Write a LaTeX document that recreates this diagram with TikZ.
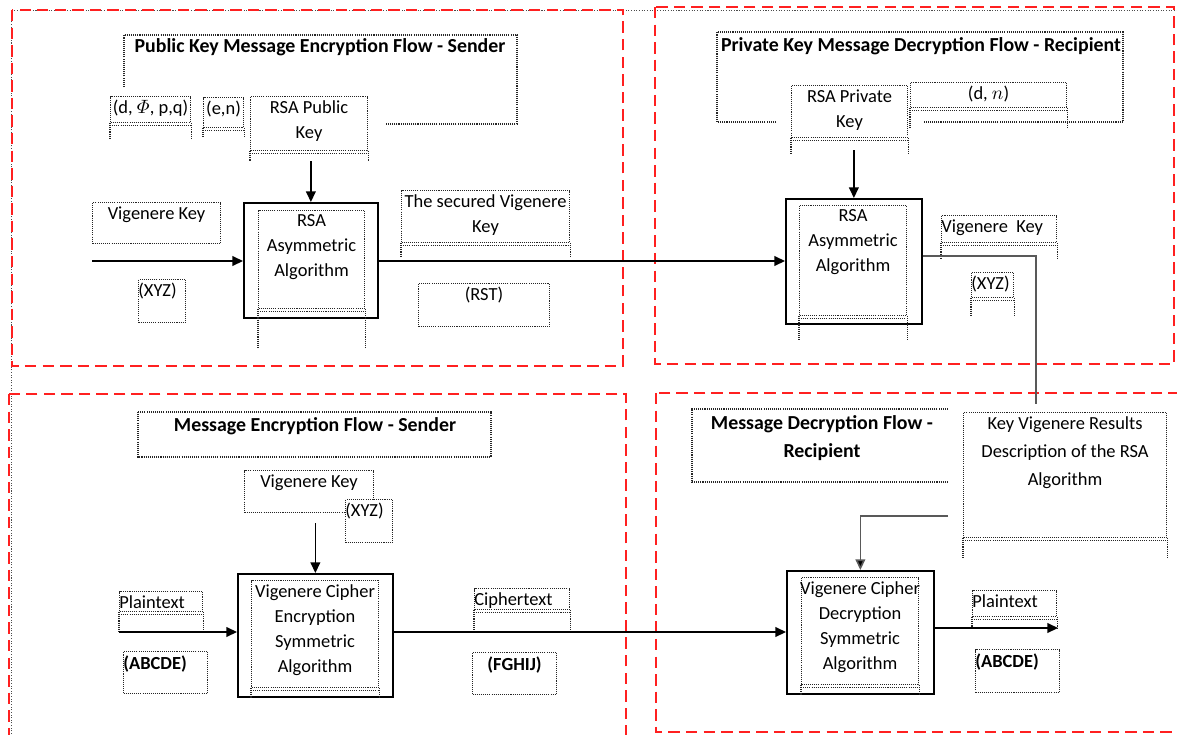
\documentclass[tikz,border=0pt]{standalone}
\usepackage{amsmath}
\usepackage{fontspec}
\setmainfont{Carlito}
\usetikzlibrary{arrows.meta}
\definecolor{panelred}{RGB}{255,32,32}

\begin{document}
\begin{tikzpicture}[x=0.02cm, y=-0.02cm,
    font=\fontsize{10.5}{14.2}\selectfont,
    panel/.style={draw=panelred, line width=1.6pt, dash pattern=on 6.5pt off 3.5pt},
    page/.style={draw=black!70, line width=0.5pt, dash pattern=on 0.6pt off 0.9pt},
    dotl/.style={draw=black!85, line width=0.6pt, dash pattern=on 0.6pt off 0.6pt},
    tbox/.style={dotl, fill=white, anchor=north west, inner sep=0pt},
    algo/.style={draw, line width=1pt, fill=white, anchor=north west, inner sep=0pt},
    wh/.style 2 args={minimum width=#1*0.02cm, minimum height=#2*0.02cm},
    txt/.style={anchor=north, align=center, inner sep=0pt, yshift=-2.3pt},
    txtl/.style={anchor=north west, align=left, inner sep=0pt, yshift=-2.3pt},
    ttl/.style={anchor=north, align=center, inner sep=0pt, font=\fontsize{11.3}{16}\selectfont\bfseries},
    bold/.style={font=\fontsize{10.5}{14.2}\selectfont\bfseries},
    flow/.style={-{Triangle[length=6pt,width=5.5pt]}, line width=0.8pt},
    keyline/.style={draw=black!65, line width=0.9pt},
  ]
  \useasboundingbox (0,0) rectangle (1177,734);

  % page frame and the four flows
  \draw[page] (11,734) -- (11,10) -- (1177,10);
  \draw[panel] (12,10) rectangle (623,366);
  \draw[panel] (655,7) rectangle (1174,364);
  \draw[panel] (9,394) rectangle (626,740);
  \draw[panel] (656,393) rectangle (1185,732);

  % titles
  \draw[dotl] (124,87) -- (124,35) -- (517,35) -- (517,124) -- (385,124);
  \node[ttl] (ttlpub) at (320,38) {Public Key Message Encryption Flow - Sender};
  \draw[dotl] (776,122) -- (717,122) -- (717,32) -- (1123,32) -- (1123,122) -- (924,122);
  \node[ttl] (ttlpriv) at (921,37) {Private Key Message Decryption Flow - Recipient};
  \draw[dotl] (138,412) rectangle (491,457);
  \node[ttl] (ttlenc) at (315,417) {Message Encryption Flow - Sender};
  \draw[dotl] (948,409) -- (692,409) -- (692,482) -- (948,482);
  \node[ttl] (ttldec) at (822,415) {Message Decryption Flow -\\Recipient};

  % public key encryption (sender)
  \node[tbox, wh={80}{26}, label={[txt]north:{(d, $\varPhi$, p,q)}}] (dphi) at (110,96) {};
  \node[tbox, wh={40}{30}, label={[txt]north:{(e,n)}}] (en) at (203,97) {};
  \node[tbox, wh={117}{54}, label={[txt]north:RSA Public\\Key}] (pubkey) at (250,96) {};
  \node[tbox, wh={128}{41}, label={[txt]north:Vigenere Key}] (vkin) at (92,202) {};
  \node[tbox, wh={47}{43}, label={[txtl]north west:(XYZ)}] (xyzin) at (138,279) {};
  \node[algo, wh={134}{115}] (rsaenc) at (243,202) {};
  \node[tbox, wh={106}{98}, label={[txt]north:RSA\\Asymmetric\\Algorithm}] (rsaencin) at (258,210) {};
  \node[tbox, wh={168}{52}, label={[txt]north:The secured Vigenere\\Key}] (seckey) at (401,190) {};
  \node[tbox, wh={131}{43}, label={[txt]north:(RST)}] (rst) at (418,283) {};

  % private key decryption (recipient)
  \node[tbox, wh={116}{52}, label={[txt]north:RSA Private\\Key}] (privkey) at (791,85) {};
  \node[tbox, wh={156}{25}, label={[txt]north:{(d, $n$)}}] (dn) at (910,82) {};
  \node[algo, wh={136}{125}] (rsadec) at (785,198) {};
  \node[tbox, wh={107}{110}, label={[txt]north:RSA\\Asymmetric\\Algorithm}] (rsadecin) at (799,205) {};
  \node[tbox, wh={115}{27}, label={[txtl]north west:Vigenere~ Key}] (vkout) at (941,215) {};
  \node[tbox, wh={42}{25}, label={[txtl]north west:(XYZ)}] (xyzout) at (971,272) {};

  % message encryption (sender)
  \node[tbox, wh={129}{42}, label={[txt]north:Vigenere Key}] (vkenc) at (244,470) {};
  \node[tbox, wh={47}{43}, label={[txtl]north west:(XYZ)}] (xyzenc) at (345,499) {};
  \node[algo, wh={155}{123}] (vigenc) at (237,573) {};
  \node[tbox, wh={127}{107}, label={[txt]north:Vigenere Cipher\\Encryption\\Symmetric\\Algorithm}] (vigencin) at (251,580) {};
  \node[tbox, wh={83}{20}, label={[txtl]north west:Plaintext}] (ptin) at (119,591) {};
  \node[tbox, wh={84}{42}, label={[txtl, bold]north west:(ABCDE)}] (abcin) at (123,651) {};
  \node[tbox, wh={95}{21}, label={[txtl]north west:Ciphertext}] (ctext) at (474,588) {};
  \node[tbox, wh={84}{42}, label={[txt, bold]north:(FGHIJ)}] (fghij) at (472,652) {};

  % message decryption (recipient)
  \node[tbox, wh={203}{125}, label={[txt, font=\fontsize{10.5}{15.9}\selectfont]north:Key Vigenere Results\\Description of the RSA\\Algorithm}] (kvr) at (963,412) {};
  \node[algo, wh={147}{123}] (vigdec) at (786,570) {};
  \node[tbox, wh={117}{107}, label={[txt]north:Vigenere Cipher\\Decryption\\Symmetric\\Algorithm}] (vigdecin) at (801,577) {};
  \node[tbox, wh={84}{26}, label={[txtl]north west:Plaintext}] (ptout) at (972,590) {};
  \node[tbox, wh={84}{43}, label={[txtl, bold]north west:(ABCDE)}] (abcout) at (975,649) {};

  \foreach \n/\d in {dphi/16, en/9, pubkey/10, seckey/14, rsaencin/40, privkey/15, dn/20,
      rsadecin/25, vkout/15, xyzout/17, vigencin/10, ptin/21, ctext/23, kvr/21, vigdecin/10, ptout/12}
    \draw[dotl] (\n.south west) -- ++(0,\d) (\n.south east) -- ++(0,\d)
                ([yshift=-1.2pt]\n.south west) -- ([yshift=-1.2pt]\n.south east);

  % connectors
  \coordinate (vkfrom) at (92,261);
  \coordinate (kbend) at (1036,404);
  \coordinate (ptfrom) at (119,632);
  \coordinate (kvrfrom) at (948,516);
  \coordinate (ptto) at (1058,628);

  \draw[flow] (pubkey.south -| rsaenc.north) ++(0,10) -- (rsaenc.north);
  \draw[flow] (vkfrom) -- (vkfrom -| rsaenc.west);
  \draw[flow] (rsaenc.east |- vkfrom) -- (rsadec.west |- vkfrom);
  \draw[flow] (privkey.south -| rsadec.north) ++(0,12) -- (rsadec.north);
  \draw[keyline] ([yshift=3pt]rsadec.east) -| (kbend);
  \draw[flow] (vkenc.south -| vigenc.north) ++(0,10) -- (vigenc.north);
  \draw[flow] (ptfrom) -- (ptfrom -| vigenc.west);
  \draw[flow] (vigenc.east |- ptfrom) -- (vigdec.west |- ptfrom);
  \draw[keyline, -{Triangle[length=6pt,width=5.5pt,fill=black]}] (kvrfrom) -| (vigdec.north);
  \draw[flow] (vigdec.east |- ptto) -- (ptto);
\end{tikzpicture}
\end{document}
